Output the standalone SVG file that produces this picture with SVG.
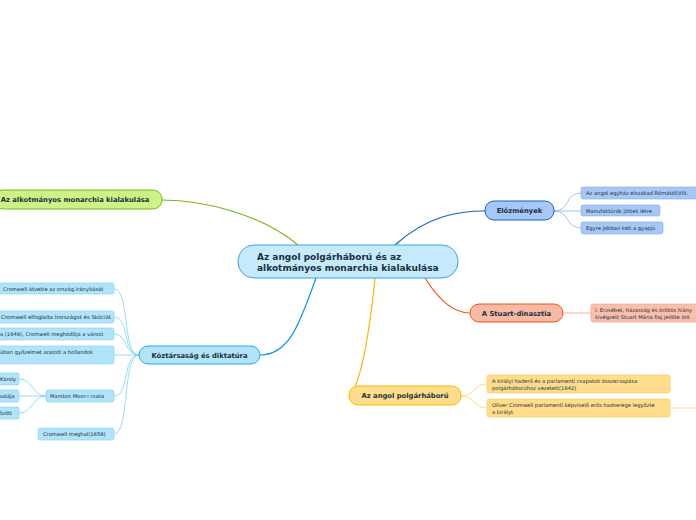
<svg xmlns="http://www.w3.org/2000/svg" width="696" height="520" viewBox="0 0 696 520">
<style>
text{font-family:"DejaVu Sans","Verdana",sans-serif;fill:#1a2f40}
.main{font-size:6.8px;font-weight:bold;text-anchor:middle}
.sub{font-size:5.2px}
.c{fill:none;stroke-width:1.2}
.cc{fill:none;stroke-width:0.8}
</style>
<rect width="696" height="520" fill="#ffffff"/>
<g id="connectors">
<path class="c" stroke="#7cb51c" d="M298,245 C 262,215 205,200 162,200"/>
<path class="c" stroke="#1565c0" d="M395,245 C 428,215 460,211 485,211"/>
<path class="c" stroke="#f4511e" d="M425,278 C 440,302 455,313 470,313"/>
<path class="c" stroke="#039be5" d="M316,278 C 300,322 290,355 260,355"/>
<path class="c" stroke="#ffb300" d="M375,278 C 370,330 362,372 355,386"/>
<path class="cc" stroke="#8ab4f0" d="M554,211 C 570,211 565,193 581,193"/>
<path class="cc" stroke="#8ab4f0" d="M554,211 L581,211"/>
<path class="cc" stroke="#8ab4f0" d="M554,211 C 570,211 565,228 581,228"/>
<path class="cc" stroke="#f6a189" d="M563,313 L591,313"/>
<path class="cc" stroke="#ffd36b" d="M461,396 C 475,396 473,384 487,384"/>
<path class="cc" stroke="#ffd36b" d="M461,396 C 475,396 473,408 487,408"/>
<path class="cc" stroke="#ffd36b" d="M670,408 L696,408"/>
<path class="cc" stroke="#7fd0f3" d="M139,355 C 122,355 130,289 114,289"/>
<path class="cc" stroke="#7fd0f3" d="M139,355 C 122,355 130,317 114,317"/>
<path class="cc" stroke="#7fd0f3" d="M139,355 C 124,355 128,334 114,334"/>
<path class="cc" stroke="#7fd0f3" d="M139,355 L114,355"/>
<path class="cc" stroke="#7fd0f3" d="M139,355 C 122,355 130,396 114,396"/>
<path class="cc" stroke="#7fd0f3" d="M139,355 C 122,355 130,434 114,434"/>
<path class="cc" stroke="#7fd0f3" d="M46,396 C 32,396 33,379 19,379"/>
<path class="cc" stroke="#7fd0f3" d="M46,396 L19,396"/>
<path class="cc" stroke="#7fd0f3" d="M46,396 C 32,396 33,413 19,413"/>
</g>
<g id="center">
<rect x="238" y="245" width="220" height="33" rx="16" fill="#c5eafb" stroke="#3ea3df" stroke-width="1"/>
<text x="257" y="260" style="font-size:9px;font-weight:bold">Az angol polgárháború és az</text>
<text x="257" y="271" style="font-size:9px;font-weight:bold">alkotmányos monarchia kialakulása</text>
</g>
<g id="alkotmanyos">
<rect x="-6" y="190" width="168" height="19" rx="9" fill="#cdf386" stroke="#7cb51c"/>
<text class="main" x="75" y="202">Az alkotmányos monarchia kialakulása</text>
</g>
<g id="elozmenyek">
<rect x="485" y="201" width="69" height="19" rx="9" fill="#a7c7f7" stroke="#1565c0"/>
<text class="main" x="519.5" y="213">Előzmények</text>
</g>
<g id="e1">
<rect x="581" y="187" width="120" height="12" rx="2" fill="#a7c7f7" stroke="#7ea9ec" stroke-width="0.6"/>
<text class="sub" x="586" y="195">Az angol egyház elszakad Rómától(VIII.</text>
</g>
<g id="e2">
<rect x="581" y="205" width="79" height="11" rx="2" fill="#a7c7f7" stroke="#7ea9ec" stroke-width="0.6"/>
<text class="sub" x="586" y="212.5">Manufaktúrák jöttek létre</text>
</g>
<g id="e3">
<rect x="581" y="222" width="82" height="12" rx="2" fill="#a7c7f7" stroke="#7ea9ec" stroke-width="0.6"/>
<text class="sub" x="586" y="230">Egyre jobban kelt a gyapjú</text>
</g>
<g id="stuart">
<rect x="470" y="304" width="93" height="18" rx="9" fill="#f8b9a5" stroke="#f4511e"/>
<text class="main" x="516.5" y="315.5">A Stuart-dinasztia</text>
</g>
<g id="s1">
<rect x="591" y="304" width="110" height="18" rx="2" fill="#f9bfac" stroke="#f5a087" stroke-width="0.6"/>
<text class="sub" x="595" y="311.5">I. Erzsébet, házasság és örökös hiány</text>
<text class="sub" x="595" y="318.5">kivégzett Stuart Mária fiaj jelölte örö</text>
</g>
<g id="koztarsasag">
<rect x="139" y="346" width="121" height="18" rx="9" fill="#b1e4fa" stroke="#29a9e1"/>
<text class="main" x="199.5" y="357.5">Köztársaság és diktatúra</text>
</g>
<g id="k1">
<rect x="-6" y="283" width="120" height="11" rx="2" fill="#b1e4fa" stroke="#7fd0f3" stroke-width="0.6"/>
<text class="sub" x="3" y="290.5">Cromwell átvette az ország irányítását</text>
</g>
<g id="k2">
<rect x="-6" y="311" width="120" height="12" rx="2" fill="#b1e4fa" stroke="#7fd0f3" stroke-width="0.6"/>
<text class="sub" x="1" y="319" textLength="110" lengthAdjust="spacingAndGlyphs">Cromwell elfoglalta Írországot és Skóciát</text>
</g>
<g id="k3">
<rect x="-6" y="328" width="120" height="12" rx="2" fill="#b1e4fa" stroke="#7fd0f3" stroke-width="0.6"/>
<text class="sub" x="0" y="336">a (1649), Cromwell meghódítja a várost</text>
</g>
<g id="k4">
<rect x="-6" y="346" width="120" height="18" rx="2" fill="#b1e4fa" stroke="#7fd0f3" stroke-width="0.6"/>
<text class="sub" x="0" y="354">úban győzelmet aratott a hollandok</text>
</g>
<g id="marston">
<rect x="46" y="390" width="68" height="12" rx="2" fill="#b1e4fa" stroke="#7fd0f3" stroke-width="0.6"/>
<text class="sub" x="50" y="398">Marston Moor-i csata</text>
</g>
<g id="m1">
<rect x="-6" y="373" width="25" height="12" rx="2" fill="#b1e4fa" stroke="#7fd0f3" stroke-width="0.6"/>
<text class="sub" x="0" y="381">Károly</text>
</g>
<g id="m2">
<rect x="-6" y="390" width="25" height="12" rx="2" fill="#b1e4fa" stroke="#7fd0f3" stroke-width="0.6"/>
<text class="sub" x="-1" y="398">satája</text>
</g>
<g id="m3">
<rect x="-6" y="407" width="25" height="12" rx="2" fill="#b1e4fa" stroke="#7fd0f3" stroke-width="0.6"/>
<text class="sub" x="-1" y="415">őzött</text>
</g>
<g id="k6">
<rect x="38" y="428" width="76" height="12" rx="2" fill="#b1e4fa" stroke="#7fd0f3" stroke-width="0.6"/>
<text class="sub" x="43" y="436">Cromwell meghal(1658)</text>
</g>
<g id="polgarhaboru">
<rect x="349" y="386" width="112" height="19" rx="9" fill="#ffdd8a" stroke="#ffb300"/>
<text class="main" x="405" y="398">Az angol polgárháború</text>
</g>
<g id="p1">
<rect x="487" y="375" width="183" height="18" rx="2" fill="#ffdd8c" stroke="#fcc84e" stroke-width="0.6"/>
<text class="sub" x="492" y="382.5">A királyi haderő és a parlamenti csapatok összecsapása</text>
<text class="sub" x="492" y="389.5">polgárháborúhoz vezetett(1642)</text>
</g>
<g id="p2">
<rect x="487" y="399" width="183" height="18" rx="2" fill="#ffdd8c" stroke="#fcc84e" stroke-width="0.6"/>
<text class="sub" x="492" y="406.5">Oliver Cromwell parlamenti képviselő erős hadserege legyőzte</text>
<text class="sub" x="492" y="413.5">a királyt</text>
</g>
</svg>
